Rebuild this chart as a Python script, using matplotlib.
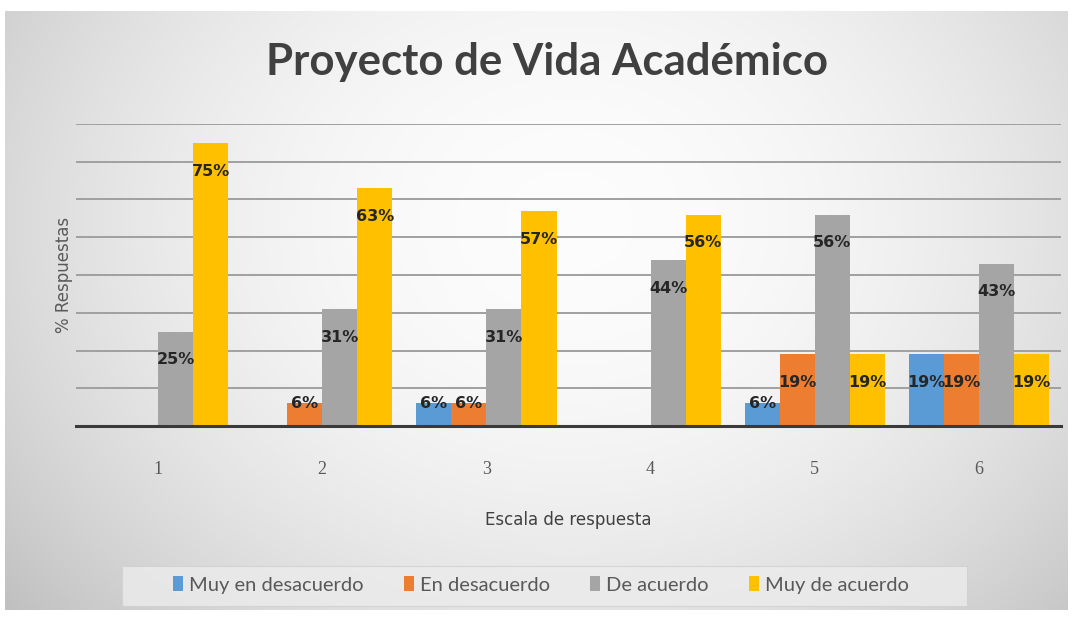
import numpy as np
import matplotlib
matplotlib.use("Agg")
import matplotlib.pyplot as plt
from matplotlib.patches import Rectangle

# data
categorias = ["1", "2", "3", "4", "5", "6"]
series = ["Muy en desacuerdo", "En desacuerdo", "De acuerdo", "Muy de acuerdo"]
muy_en_desacuerdo = [0, 0, 6, 0, 6, 19]
en_desacuerdo = [0, 6, 6, 0, 19, 19]
de_acuerdo = [25, 31, 31, 44, 56, 43]
muy_de_acuerdo = [75, 63, 57, 56, 19, 19]
colores = ["#5B9BD5", "#ED7D31", "#A5A5A5", "#FFC000"]

valores = [muy_en_desacuerdo, en_desacuerdo, de_acuerdo, muy_de_acuerdo]

W, H = 1073, 618
fig = plt.figure(figsize=(W / 100, H / 100), dpi=100)
fig.patch.set_facecolor("white")

# background with a soft radial gradient (chart area)
bg = fig.add_axes([5 / W, 8 / H, 1063 / W, 599 / H])
bg.set_axis_off()
yy, xx = np.mgrid[0:200, 0:340]
cx, cy = 180, 70
r2 = ((xx - cx) / 210.0) ** 2 + ((yy - cy) / 180.0) ** 2
g = np.clip(0.99 - 0.19 * r2, 0.75, 1.0)
img = np.dstack([g, g, g])
bg.imshow(img, aspect="auto", extent=[0, 1, 0, 1], origin="upper")
bg.set_xlim(0, 1)
bg.set_ylim(0, 1)
# legend box
bg.add_patch(Rectangle((117 / 1063, (607 - 603) / 599), 845 / 1063, 40 / 599,
                       facecolor="#ececec", edgecolor="#d0d0d0", lw=0.8, alpha=0.8))

ax = fig.add_axes([76 / W, (H - 426) / H, 985 / W, 302 / H])
ax.set_facecolor("none")

x = np.arange(len(categorias))
ancho = 0.2135
for i, (nombre, vals, col) in enumerate(zip(series, valores, colores)):
    pos = x + (i - 1.5) * ancho
    ax.bar(pos, vals, width=ancho, color=col, label=nombre, zorder=3)
    for xp, v in zip(pos, vals):
        if v > 0:
            ax.text(xp, max(v - 7.5, 6.0), f"{v}%", ha="center", va="center",
                    fontsize=11.5, fontweight="bold", color="#262626", zorder=5)

ax.set_xlim(-0.5, len(categorias) - 0.5)
ax.set_ylim(0, 80)
ax.set_yticks(np.arange(10, 81, 10))
ax.yaxis.grid(True, color="#a0a0a0", lw=1.4, zorder=0)
ax.tick_params(axis="y", length=0, labelleft=False)
ax.set_xticks(x)
ax.set_xticklabels(categorias, fontsize=13, color="#595959", family="Liberation Serif")
ax.tick_params(axis="x", length=0, pad=25)
for s in ["top", "right", "left"]:
    ax.spines[s].set_visible(False)
ax.spines["bottom"].set_color("#3a3a3a")
ax.spines["bottom"].set_linewidth(2.2)
ax.spines["bottom"].set_zorder(4)

ax.set_xlabel("Escala de respuesta", fontsize=12, color="#404040", labelpad=24)
ax.set_ylabel("% Respuestas", fontsize=12, color="#595959", labelpad=2)

fig.text(547 / W, 1 - 62 / H, "Proyecto de Vida Académico", ha="center", va="center",
         fontsize=31.5, color="#404040", family="Lato", fontweight="bold")

leg = fig.legend(loc="center", bbox_to_anchor=(541 / W, 1 - 585 / H), ncol=4,
                 frameon=False, handlelength=0.5, handleheight=0.7,
                 handletextpad=0.3, columnspacing=2.0,
                 prop={"family": "Lato", "size": 14.5})
for t in leg.get_texts():
    t.set_color("#595959")

fig.savefig("out.png", dpi=100)
